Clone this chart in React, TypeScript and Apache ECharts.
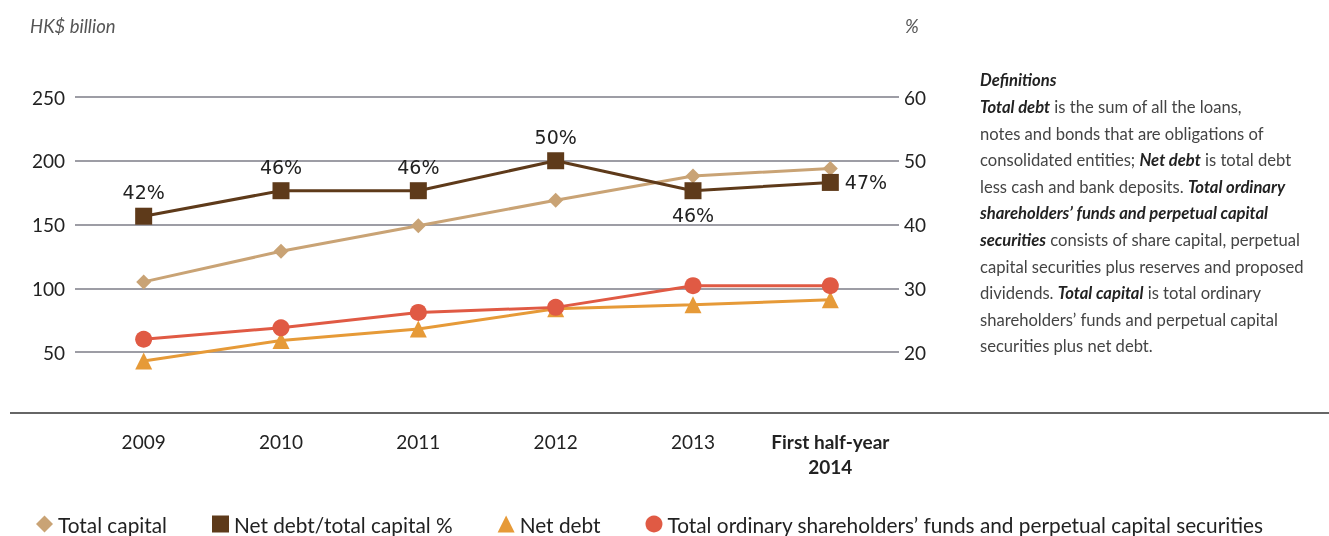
import React, { useEffect, useRef } from "react";
import * as echarts from "echarts";

const categories = ["2009", "2010", "2011", "2012", "2013", "First half-year\n2014"];
const totalCapital = [105, 129, 149, 169, 188, 194];
const netDebtRatio = [41.3, 45.3, 45.3, 50, 45.3, 46.6];
const ratioLabels = ["42%", "46%", "46%", "50%", "46%", "47%"];
const ratioLabelPos = ["top", "top", "top", "top", "bottom", "right"];
const netDebt = [43, 59, 68, 84, 87, 91];
const shareholdersFunds = [60, 69, 81, 85, 102, 102];
const leftTicks = [50, 250, 50];
const rightTicks = [20, 60, 10];

const FONT = "Lato";

const definitionLines = [
  "{bi|Definitions}",
  "{bi|Total debt}{t| is the sum of all the loans,}",
  "{t|notes and bonds that are obligations of}",
  "{t|consolidated entities; }{bi|Net debt}{t| is total debt}",
  "{t|less cash and bank deposits. }{bi|Total ordinary}",
  "{bi|shareholders’ funds and perpetual capital}",
  "{bi|securities}{t| consists of share capital, perpetual}",
  "{t|capital securities plus reserves and proposed}",
  "{t|dividends. }{bi|Total capital}{t| is total ordinary}",
  "{t|shareholders’ funds and perpetual capital}",
  "{t|securities plus net debt.}",
];

export default function App() {
  const ref = useRef<HTMLDivElement>(null);
  useEffect(() => {
    const chart = echarts.init(ref.current!, null, { renderer: "svg" });
    const colors = {
      cap: "#c9a375",
      ratio: "#5e3a1a",
      debt: "#e69a38",
      funds: "#e05a44",
    };
    const DF = 16.6;
    chart.setOption({
      animation: false,
      textStyle: { fontFamily: FONT },
      grid: { left: 75, right: 430, top: 97, bottom: 184 },
      xAxis: {
        type: "category",
        data: categories,
        boundaryGap: true,
        axisLine: { show: false },
        axisTick: { show: false },
        axisLabel: {
          interval: 0,
          margin: 77,
          fontSize: 19,
          color: "#222",
          fontFamily: FONT,
          lineHeight: 25,
          formatter: (v: string, i: number) =>
            i === 5 ? v.split("\n").map((s) => `{b|${s}}`).join("\n") : v,
          rich: { b: { fontWeight: "bold", fontSize: 19, color: "#222", fontFamily: FONT, lineHeight: 25 } },
        },
      },
      yAxis: [
        {
          type: "value",
          min: leftTicks[0],
          max: leftTicks[1],
          interval: leftTicks[2],
          axisLine: { show: false },
          axisTick: { show: false },
          axisLabel: { fontSize: 19, color: "#222", margin: 10, fontFamily: FONT },
          splitLine: { lineStyle: { color: "#9d9da5", width: 2 } },
        },
        {
          type: "value",
          min: rightTicks[0],
          max: rightTicks[1],
          interval: rightTicks[2],
          axisLine: { show: false },
          axisTick: { show: false },
          axisLabel: { fontSize: 19, color: "#222", margin: 5, fontFamily: FONT },
          splitLine: { show: false },
        },
      ],
      legend: {
        left: 31,
        top: 508,
        itemGap: 45,
        itemWidth: 17,
        itemHeight: 17,
        textStyle: { fontSize: 20.8, color: "#222", fontFamily: FONT, lineHeight: 22 },
        data: [
          { name: "Total capital", icon: "diamond" },
          { name: "Net debt/total capital %", icon: "rect" },
          { name: "Net debt", icon: "triangle" },
          { name: "Total ordinary shareholders’ funds and perpetual capital securities", icon: "circle" },
        ],
      },
      graphic: [
        {
          type: "line",
          shape: { x1: 10, y1: 413, x2: 1329, y2: 413 },
          style: { stroke: "#333", lineWidth: 1.5 },
        },
        {
          type: "text",
          x: 30,
          y: 26,
          style: {
            text: "HK$ billion",
            fontSize: 18.5,
            fontStyle: "italic",
            fill: "#555",
            fontFamily: FONT,
            verticalAlign: "middle",
          },
        },
        {
          type: "text",
          x: 905,
          y: 26,
          style: {
            text: "%",
            fontSize: 18.5,
            fontStyle: "italic",
            fill: "#555",
            fontFamily: FONT,
            verticalAlign: "middle",
          },
        },
        {
          type: "text",
          x: 980,
          y: 67,
          style: {
            text: definitionLines.join("\n"),
            fontFamily: FONT,
            fontSize: DF,
            lineHeight: 26.6,
            verticalAlign: "top",
            rich: {
              bi: { fontWeight: "bold", fontStyle: "italic", fill: "#222", fontSize: DF, lineHeight: 26.6, fontFamily: FONT },
              t: { fill: "#444", fontSize: DF, lineHeight: 26.6, fontFamily: FONT },
            },
          },
        },
      ],
      series: [
        {
          name: "Total capital",
          type: "line",
          yAxisIndex: 0,
          data: totalCapital,
          symbol: "diamond",
          symbolSize: 15,
          clip: false,
          lineStyle: { color: colors.cap, width: 3 },
          itemStyle: { color: colors.cap },
        },
        {
          name: "Net debt/total capital %",
          type: "line",
          yAxisIndex: 1,
          data: netDebtRatio.map((v, i) => ({
            value: v,
            label: { position: ratioLabelPos[i] },
          })),
          symbol: "rect",
          symbolSize: 17,
          clip: false,
          lineStyle: { color: colors.ratio, width: 3 },
          itemStyle: { color: colors.ratio },
          label: {
            show: true,
            distance: 6,
            fontSize: 19,
            color: "#222",
            fontFamily: "DejaVu Sans",
            formatter: (p: any) => ratioLabels[p.dataIndex],
          },
        },
        {
          name: "Net debt",
          type: "line",
          yAxisIndex: 0,
          data: netDebt,
          symbol: "triangle",
          symbolSize: 17,
          clip: false,
          lineStyle: { color: colors.debt, width: 3 },
          itemStyle: { color: colors.debt },
        },
        {
          name: "Total ordinary shareholders’ funds and perpetual capital securities",
          type: "line",
          yAxisIndex: 0,
          data: shareholdersFunds,
          symbol: "circle",
          symbolSize: 17,
          clip: false,
          lineStyle: { color: colors.funds, width: 3 },
          itemStyle: { color: colors.funds },
        },
      ],
    });
    return () => chart.dispose();
  }, []);
  return (
    <div
      ref={ref}
      style={{ position: "fixed", left: 0, top: 0, width: 1329, height: 536 }}
    />
  );
}
